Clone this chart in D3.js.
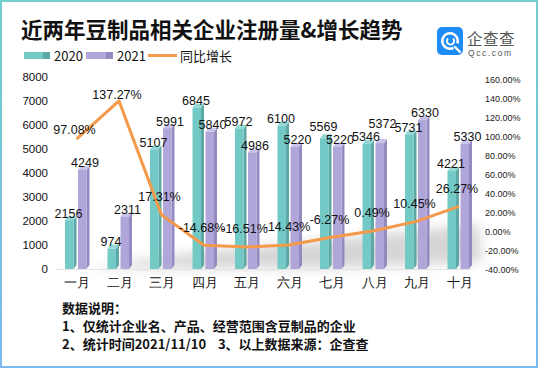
<!DOCTYPE html>
<html><head><meta charset="utf-8">
<script src="https://cdn.jsdelivr.net/npm/d3@7/dist/d3.min.js"></script>
<style>
html,body{margin:0;padding:0;background:#fff;}
svg{display:block;font-family:"Noto Sans CJK SC","Noto Sans",sans-serif;}
</style></head><body>
<svg id="c" width="538" height="368"></svg>
<script>
const months = ["一月","二月","三月","四月","五月","六月","七月","八月","九月","十月"];
const v2020 = [2156, 974, 5107, 6845, 5972, 6100, 5569, 5346, 5731, 4221];
const v2021 = [4249, 2311, 5991, 5840, 4986, 5220, 5220, 5372, 6330, 5330];
const growth = [97.08, 137.27, 17.31, -14.68, -16.51, -14.43, -6.27, 0.49, 10.45, 26.27];
const leftTicks = [0,1000,2000,3000,4000,5000,6000,7000,8000];
const rightTicks = [-40,-20,0,20,40,60,80,100,120,140,160];
const seriesNames = ["2020","2021","同比增长"];
const title = "近两年豆制品相关企业注册量&增长趋势";
const notes = ["数据说明：","1、仅统计企业名、产品、经营范围含豆制品的企业","2、统计时间2021/11/10    3、以上数据来源：企查查"];

const svg = d3.select("#c");
const defs = svg.append("defs");
const bg = defs.append("linearGradient").attr("id","bord").attr("gradientUnits","userSpaceOnUse")
  .attr("x1",0).attr("y1",0).attr("x2",0).attr("y2",368);
bg.append("stop").attr("offset","0%").attr("stop-color","#72CDCB");
bg.append("stop").attr("offset","100%").attr("stop-color","#7DB8EC");
defs.append("filter").attr("id","blur").attr("x","-20%").attr("y","-50%").attr("width","140%").attr("height","200%")
  .append("feGaussianBlur").attr("stdDeviation",6);

svg.append("rect").attr("x",1).attr("y",1).attr("width",536).attr("height",366)
  .attr("fill","#fff").attr("stroke","url(#bord)").attr("stroke-width",2);

// title
svg.append("text").attr("x",21).attr("y",37.5).attr("font-size",21.5).attr("font-weight","bold")
  .attr("fill","#111").text(title);

// logo
const lg = svg.append("g");
lg.append("rect").attr("x",437).attr("y",27).attr("width",26).attr("height",28).attr("rx",5).attr("fill","#1E8CF6");
lg.append("path").attr("d", d3.arc()({innerRadius:6.5,outerRadius:9,startAngle:Math.PI*0.85,endAngle:Math.PI*2.6}))
  .attr("transform","translate(450,41)").attr("fill","#fff");
lg.append("path").attr("d", d3.arc()({innerRadius:2.6,outerRadius:4.6,startAngle:Math.PI*0.25,endAngle:Math.PI*1.75}))
  .attr("transform","translate(450.5,41)").attr("fill","#fff");
lg.append("path").attr("d","M455,47 L460,52").attr("stroke","#fff").attr("stroke-width",2.4).attr("stroke-linecap","round");
lg.append("text").attr("x",467).attr("y",45).attr("font-size",15.5).attr("fill","#555").attr("letter-spacing",0.5).text("企查查");
lg.append("text").attr("x",468).attr("y",55.5).attr("font-size",8.5).attr("fill","#555").attr("letter-spacing",1.6)
  .attr("font-family","'Liberation Sans',sans-serif").text("Qcc.com");

// colors
const teal = {front:"#72C9C5", side:"#5DA8A5", top:"#93D8D4"};
const purp = {front:"#B1A6DA", side:"#948ABF", top:"#C9C2E9"};
const orange = "#F5994A";

// legend
const leg = svg.append("g");
leg.append("rect").attr("x",24).attr("y",52).attr("width",19).attr("height",7).attr("fill",teal.front);
leg.append("rect").attr("x",43).attr("y",52).attr("width",7).attr("height",7).attr("fill",teal.side);
leg.append("text").attr("x",54).attr("y",60.5).attr("font-size",13).attr("fill","#111").text(seriesNames[0]);
leg.append("rect").attr("x",86).attr("y",52).attr("width",20).attr("height",7).attr("fill",purp.front);
leg.append("rect").attr("x",106).attr("y",52).attr("width",7).attr("height",7).attr("fill",purp.side);
leg.append("text").attr("x",117).attr("y",60.5).attr("font-size",13).attr("fill","#111").text(seriesNames[1]);
leg.append("line").attr("x1",148).attr("x2",177).attr("y1",55.5).attr("y2",55.5).attr("stroke",orange).attr("stroke-width",3);
leg.append("text").attr("x",180).attr("y",60.5).attr("font-size",13).attr("fill","#111").text(seriesNames[2]);

// scales
const x = d3.scalePoint().domain(months).range([76.5, 459]);
const yL = d3.scaleLinear().domain([0,8000]).range([269,77]);
const yR = d3.scaleLinear().domain([-40,160]).range([269.3,79.3]);

// floor shadow
svg.append("path").attr("d","M88,268 L200,252 L330,240 L478,224 L482,262 L330,268 Z")
  .attr("fill","#c8c8c8").attr("opacity",0.75).attr("filter","url(#blur)");

// baseline
svg.append("line").attr("x1",56).attr("x2",472).attr("y1",269.5).attr("y2",269.5).attr("stroke","#e3e3e3");

// axes
const fmtPct = v => v.toFixed(2) + "%";
const gL = svg.append("g").attr("transform","translate(52,0)")
  .call(d3.axisLeft(yL).tickValues(leftTicks).tickSize(0).tickPadding(4).tickFormat(d3.format("d")));
gL.select(".domain").remove();
gL.selectAll("text").attr("font-size",11.5).attr("fill","#111").attr("font-family","'Liberation Sans',sans-serif");

const gR = svg.append("g").attr("transform","translate(481,0)")
  .call(d3.axisRight(yR).tickValues(rightTicks).tickSize(0).tickPadding(4).tickFormat(fmtPct));
gR.select(".domain").remove();
gR.selectAll("text").attr("font-size",9).attr("fill","#222").attr("font-family","'Liberation Sans',sans-serif");

const gB = svg.append("g").attr("transform","translate(0,269)")
  .call(d3.axisBottom(x).tickSize(0).tickPadding(8.5));
gB.select(".domain").remove();
gB.selectAll("text").attr("font-size",13).attr("fill","#111");

// 3D bars
const dx = 3, dy = 4, fw = 8.5;
function bar3d(g, cx, v, col) {
  const x0 = cx, x1 = cx + fw, yt = yL(v) + 3, yb = 269;
  g.append("path").attr("d",`M${x1},${yt} L${x1+dx},${yt-dy} L${x1+dx},${yb-dy} L${x1},${yb} Z`).attr("fill",col.side);
  g.append("path").attr("d",`M${x0},${yt} L${x0+dx},${yt-dy} L${x1+dx},${yt-dy} L${x1},${yt} Z`).attr("fill",col.top);
  g.append("rect").attr("x",x0).attr("y",yt).attr("width",fw).attr("height",yb-yt).attr("fill",col.front);
}
const bars = svg.append("g");
months.forEach((m,i) => {
  const c = x(m);
  bar3d(bars, c - 11.5, v2020[i], teal);
  bar3d(bars, c + 1.5, v2021[i], purp);
});

// line
const line = d3.line().x((d,i) => x(months[i])).y(d => yR(d));
svg.append("path").datum(growth).attr("d",line).attr("fill","none")
  .attr("stroke",orange).attr("stroke-width",3).attr("stroke-linejoin","round");

// bar labels (with simple collision avoidance between the pair)
const lab = svg.append("g").attr("font-size",12.5).attr("fill","#111").attr("text-anchor","middle")
  .attr("font-family","'Liberation Sans',sans-serif");
const minGap = 13;
months.forEach((m,i) => {
  const c = x(m);
  let ya = yL(v2020[i]) - 4, yb = yL(v2021[i]) - 4;
  if (Math.abs(ya - yb) < minGap) {
    if (v2020[i] > v2021[i]) ya = yb - minGap; else yb = ya - minGap;
  }
  lab.append("text").attr("x",c - 8).attr("y",ya).attr("dy","0.35em").text(v2020[i]);
  lab.append("text").attr("x",c + 8.5).attr("y",yb).attr("dy","0.35em").text(v2021[i]);
});
// line labels
months.forEach((m,i) => {
  const up = growth[i] > 50 ? (i === 0 ? 9 : 6) : 18;
  lab.append("text").attr("x",x(m) - 2).attr("y",yR(growth[i]) - up).attr("dy","0.35em").text(fmtPct(growth[i]));
});

// notes
const ng = svg.append("g").attr("font-size",13).attr("font-weight","bold").attr("fill","#111");
notes.forEach((t,i) => {
  ng.append("text").attr("x",62).attr("y",313 + i*18).attr("xml:space","preserve").style("white-space","pre").text(t);
});
</script>
</body></html>
